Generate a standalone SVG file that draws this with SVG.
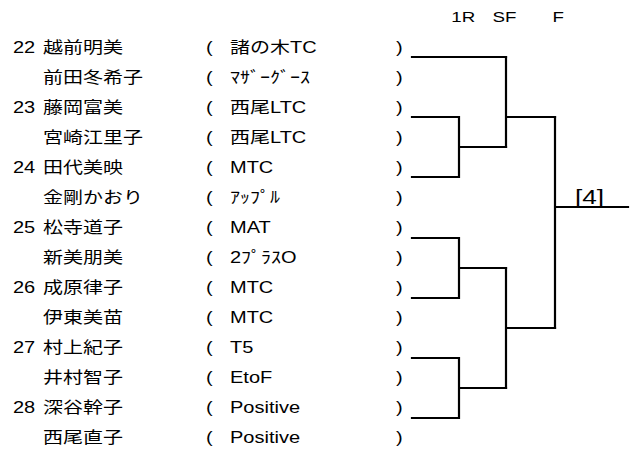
<svg xmlns="http://www.w3.org/2000/svg" width="637" height="450" viewBox="0 0 637 450">
<style>
text{font-family:"Liberation Sans","Noto Sans CJK JP",sans-serif;font-size:16px;fill:#000}
.hd{font-size:15px}
.res{font-size:21px}
.ln{fill:none;stroke:#000;stroke-width:2.2;stroke-linecap:square}
</style>
<rect width="637" height="450" fill="#fff"/>
<g transform="scale(1.25 1)">
<g id="header"><text class="hd" x="361" y="22">1R</text><text class="hd" x="394" y="22">SF</text><text class="hd" x="442" y="22">F</text></g>
<g id="p22a"><text x="10.4" y="53">22</text><text x="34.4" y="53">越前明美</text><text x="164.8" y="53">(</text><text x="184" y="53">諸の木TC</text><text x="316.8" y="53">)</text></g>
<g id="p22b"><text x="34.4" y="83">前田冬希子</text><text x="164.8" y="83">(</text><text x="184" y="83">ﾏｻﾞｰｸﾞｰｽ</text><text x="316.8" y="83">)</text></g>
<g id="p23a"><text x="10.4" y="113">23</text><text x="34.4" y="113">藤岡富美</text><text x="164.8" y="113">(</text><text x="184" y="113">西尾LTC</text><text x="316.8" y="113">)</text></g>
<g id="p23b"><text x="34.4" y="143">宮崎江里子</text><text x="164.8" y="143">(</text><text x="184" y="143">西尾LTC</text><text x="316.8" y="143">)</text></g>
<g id="p24a"><text x="10.4" y="173">24</text><text x="34.4" y="173">田代美映</text><text x="164.8" y="173">(</text><text x="184" y="173">MTC</text><text x="316.8" y="173">)</text></g>
<g id="p24b"><text x="34.4" y="203">金剛かおり</text><text x="164.8" y="203">(</text><text x="184" y="203">ｱｯﾌﾟﾙ</text><text x="316.8" y="203">)</text></g>
<g id="p25a"><text x="10.4" y="233">25</text><text x="34.4" y="233">松寺道子</text><text x="164.8" y="233">(</text><text x="184" y="233">MAT</text><text x="316.8" y="233">)</text></g>
<g id="p25b"><text x="34.4" y="263">新美朋美</text><text x="164.8" y="263">(</text><text x="184" y="263">2ﾌﾟﾗｽO</text><text x="316.8" y="263">)</text></g>
<g id="p26a"><text x="10.4" y="293">26</text><text x="34.4" y="293">成原律子</text><text x="164.8" y="293">(</text><text x="184" y="293">MTC</text><text x="316.8" y="293">)</text></g>
<g id="p26b"><text x="34.4" y="323">伊東美苗</text><text x="164.8" y="323">(</text><text x="184" y="323">MTC</text><text x="316.8" y="323">)</text></g>
<g id="p27a"><text x="10.4" y="353">27</text><text x="34.4" y="353">村上紀子</text><text x="164.8" y="353">(</text><text x="184" y="353">T5</text><text x="316.8" y="353">)</text></g>
<g id="p27b"><text x="34.4" y="383">井村智子</text><text x="164.8" y="383">(</text><text x="184" y="383">EtoF</text><text x="316.8" y="383">)</text></g>
<g id="p28a"><text x="10.4" y="413">28</text><text x="34.4" y="413">深谷幹子</text><text x="164.8" y="413">(</text><text x="184" y="413">Positive</text><text x="316.8" y="413">)</text></g>
<g id="p28b"><text x="34.4" y="443">西尾直子</text><text x="164.8" y="443">(</text><text x="184" y="443">Positive</text><text x="316.8" y="443">)</text></g>
<g id="result"><text class="res" x="460" y="204">[4]</text></g>
</g>
<g id="connectors">
<path class="ln" d="M412,57H506"/>
<path class="ln" d="M412,117H459V177H412M459,147H506"/>
<path class="ln" d="M506,57V147M506,117H555"/>
<path class="ln" d="M412,238H459V298H412M459,268H506"/>
<path class="ln" d="M412,358H459V418H412M459,388H506"/>
<path class="ln" d="M506,268V388M506,328H555"/>
<path class="ln" d="M555,117V328M555,207H628"/>
</g>
</svg>
